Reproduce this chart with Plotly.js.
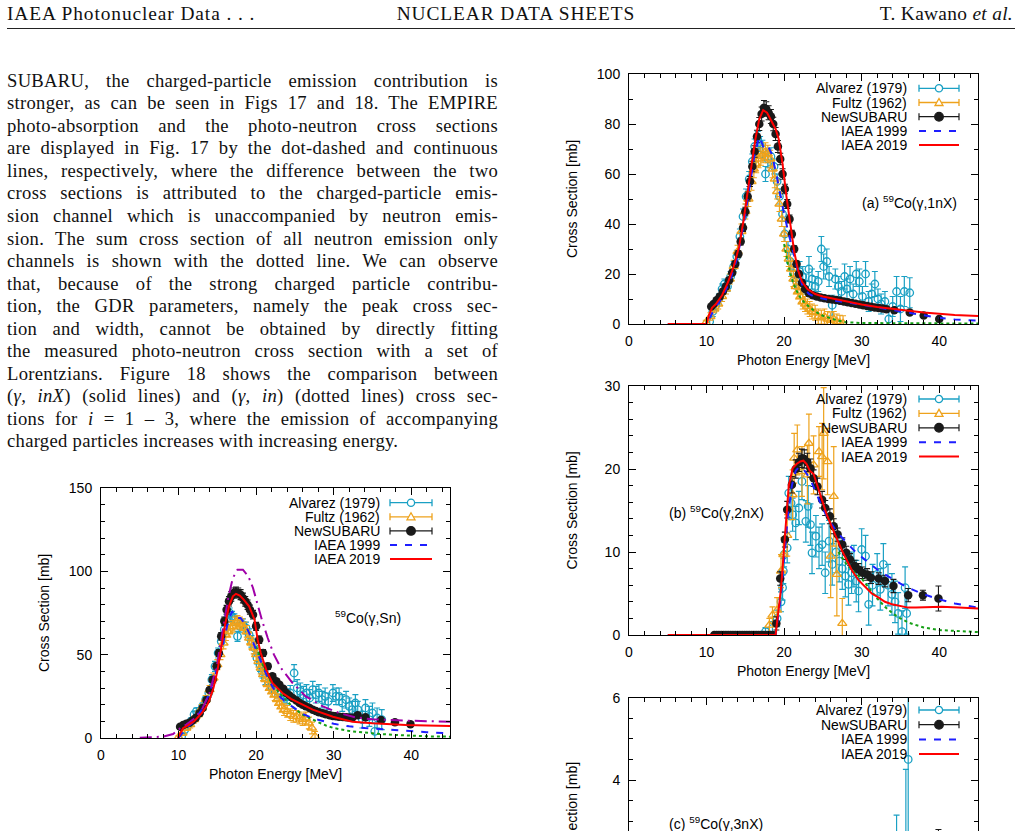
<!DOCTYPE html>
<html>
<head>
<meta charset="utf-8">
<script src="https://cdn.plot.ly/plotly-3.0.1.min.js"></script>
<style>
  html, body { margin:0; padding:0; overflow:hidden; background:#fff; }
  #page { position:relative; width:1030px; height:1000px; }
  #plot { position:absolute; left:0; top:0; width:1030px; height:1000px; }
  .tx { position:absolute; font-family:"Liberation Serif","Times New Roman",serif; font-size:19.4px;
        line-height:22.56px; color:#111; white-space:nowrap; letter-spacing:0.9px; }
  #para { position:absolute; left:7px; top:69.7px; width:491px; font-family:"Liberation Serif","Times New Roman",serif;
          font-size:18.6px; color:#111; letter-spacing:0.3px; }
  #para div { height:22.56px; line-height:22.56px; text-align:justify; text-align-last:justify; white-space:nowrap; }
  #para div.last { text-align-last:left; }
  #rule { position:absolute; left:7px; top:28px; width:1008px; height:1px; background:#222; }
</style>
</head>
<body>
<div id="page">
  <div id="plot"></div>
  <div class="tx" style="left:7px; top:3.1px;">IAEA Photonuclear Data . . .</div>
  <div class="tx" style="left:316px; top:3.1px; width:400px; text-align:center;">NUCLEAR DATA SHEETS</div>
  <div class="tx" style="left:0; top:3.1px; width:1013px; text-align:right; letter-spacing:0.3px;">T. Kawano <i>et al.</i></div>
  <div id="rule"></div>
  <div id="para">
    <div>SUBARU, the charged-particle emission contribution is</div>
    <div>stronger, as can be seen in Figs 17 and 18. The EMPIRE</div>
    <div>photo-absorption and the photo-neutron cross sections</div>
    <div>are displayed in Fig. 17 by the dot-dashed and continuous</div>
    <div>lines, respectively, where the difference between the two</div>
    <div>cross sections is attributed to the charged-particle emis-</div>
    <div>sion channel which is unaccompanied by neutron emis-</div>
    <div>sion. The sum cross section of all neutron emission only</div>
    <div>channels is shown with the dotted line. We can observe</div>
    <div>that, because of the strong charged particle contribu-</div>
    <div>tion, the GDR parameters, namely the peak cross sec-</div>
    <div>tion and width, cannot be obtained by directly fitting</div>
    <div>the measured photo-neutron cross section with a set of</div>
    <div>Lorentzians. Figure 18 shows the comparison between</div>
    <div>(<i>γ, inX</i>) (solid lines) and (<i>γ, in</i>) (dotted lines) cross sec-</div>
    <div>tions for <i>i</i> = 1 – 3, where the emission of accompanying</div>
    <div class="last">charged particles increases with increasing energy.</div>
  </div>
</div>
<script>
// ---- data: 59Co(g,Sn) ----
const s_alv_E = [10.4, 10.8, 11.2, 11.6, 12.0, 12.3, 12.7, 13.1, 13.5, 13.9,
  14.3, 14.7, 15.1, 15.5, 15.9, 16.2, 16.6, 16.9, 17.2, 17.6,
  17.9, 18.3, 18.7, 19.1, 19.4, 19.8, 20.1, 20.5, 20.8, 21.2,
  21.6, 22.0, 22.4, 22.8, 23.2, 23.6, 24.0, 24.4, 24.9, 25.3,
  25.7, 26.1, 26.5, 26.9, 27.3, 27.7, 28.1, 28.5, 28.9, 29.3,
  29.9, 30.3, 30.7, 31.1, 31.6, 32.0, 32.4, 32.8, 33.1, 33.7,
  34.1, 34.6, 35.0, 35.3, 35.6, 36.2];
const s_alv_S = [1, 5, 7.5, 10, 14, 16, 15, 19, 23, 27,
  35, 43, 51, 58, 65, 71, 75, 73, 71, 61,
  67, 68, 66, 62, 58, 54, 48, 44, 40, 36,
  33, 31, 29, 28, 27, 26, 25, 27, 39, 30,
  28, 26, 27, 24, 29, 26, 27, 23, 25, 22,
  27, 25, 25, 21, 23, 19, 17, 21, 17, 11,
  18, 13, 15, 4, 12, 11];
const s_alv_err = [1.5, 2, 2, 2, 2, 2, 2, 2, 2, 2.5,
  3, 3, 3, 3, 3, 3, 3, 3, 3.5, 3,
  3.5, 3.5, 3.5, 3.5, 3.5, 3.5, 3.5, 4, 4, 4,
  4, 4, 4, 4, 4.5, 4.5, 4.5, 4.5, 5, 5,
  5, 5, 5, 5, 5, 5, 5, 5, 5, 5,
  5, 5, 5, 5, 5, 5, 5, 5, 5, 5,
  5, 6, 6, 5, 6, 6];
const s_ful_E = [10.0, 10.5, 11.0, 11.5, 12.0, 12.5, 13.0, 13.5, 14.0, 14.5,
  15.0, 15.4, 15.8, 16.1, 16.4, 16.7, 17.0, 17.3, 17.6, 17.9,
  18.2, 18.5, 18.8, 19.1, 19.4, 19.7, 20.0, 20.3, 20.6, 20.9,
  21.2, 21.5, 21.8, 22.1, 22.4, 22.7, 23.0, 23.3, 23.6, 24.0,
  24.4, 24.8, 25.2, 25.6, 26.0, 26.4, 26.8, 27.2, 27.6];
const s_ful_S = [0.5, 3, 6, 8, 11, 14, 18, 23, 29, 36,
  44, 50, 57, 62, 64, 66, 67, 69, 70, 69,
  68, 66, 64, 60, 57, 54, 50, 46, 42, 38,
  35, 32, 30, 28, 26, 23, 21, 19, 17, 16,
  14, 13, 13, 12, 11, 12, 9, 6, 1];
const s_ful_err = [1, 1.5, 1.5, 2, 2, 2, 2, 2.5, 2.5, 3,
  3, 3, 3.5, 3.5, 3.5, 3.5, 3.5, 3.5, 3.5, 3.5,
  3.5, 3.5, 3.5, 3.5, 3.5, 3.5, 3.5, 3.5, 3.5, 3.5,
  3.5, 3.5, 3.5, 3.5, 3.5, 3.5, 3.5, 3.5, 3.5, 3.5,
  3.5, 3.5, 3.5, 3.5, 3.5, 3.5, 3.5, 3.5, 3];
const s_nsb_E = [10.2, 10.6, 11.0, 11.4, 11.8, 12.2, 12.7, 13.1, 13.6, 14.0,
  14.4, 14.9, 15.2, 15.5, 15.9, 16.2, 16.5, 16.8, 17.1, 17.4,
  17.7, 18.0, 18.3, 18.6, 18.9, 19.2, 19.6, 20.0, 20.4, 20.9,
  21.5, 22.1, 22.6, 23.0, 23.5, 23.9, 24.3, 24.7, 25.2, 25.6,
  26.0, 26.4, 26.9, 27.3, 27.7, 28.1, 28.6, 29.0, 29.5, 29.9,
  30.3, 30.7, 31.2, 31.6, 32.0, 32.4, 33.1, 34.1, 36.1, 37.9,
  39.9];
const s_nsb_S = [6.8, 7.8, 8.5, 9.2, 10.5, 12, 14.8, 18, 22.8, 28.8,
  35, 43, 51, 61, 70, 77, 82, 85, 87, 87.5,
  87, 86, 84, 82, 80, 77, 74, 67, 59, 51,
  43, 37, 34, 32, 29.5, 27, 25.5, 24, 22.5, 21,
  20, 19, 18, 17, 16.2, 15.4, 14.8, 14.2, 13.7, 13.2,
  13, 12.8, 12.6, 12.4, 12.3, 12.2, 13.6, 12.4, 10.8, 9.4,
  8.2];
const s_nsb_err = [0.8, 0.8, 0.9, 0.9, 1, 1, 1.1, 1.2, 1.3, 1.5,
  1.7, 1.9, 2.1, 2.3, 2.5, 2.6, 2.8, 2.9, 3, 3,
  3, 3, 2.9, 2.9, 2.8, 2.7, 2.6, 2.4, 2.2, 2,
  1.8, 1.6, 1.5, 1.4, 1.3, 1.2, 1.1, 1.1, 1, 1,
  1, 1, 0.9, 0.9, 0.9, 0.9, 0.9, 0.9, 0.9, 0.9,
  0.9, 0.9, 0.9, 0.9, 0.9, 0.9, 1, 1, 1, 1,
  1.2];
const s_b99_E = [10, 10.5, 11, 12, 13, 14, 15, 15.8, 16.4, 16.9, 17.4, 18, 18.6, 19.2, 19.8, 20.4, 21,
  21.6, 22.2, 23, 24, 25, 26, 27, 28, 30, 32, 34, 36, 38, 40, 42, 45];
const s_b99_S = [0, 3, 6, 10, 17, 27, 42, 58, 70, 76, 72, 72, 68, 62, 55, 48, 41,
  35, 30, 25, 21, 17.5, 14.5, 12.5, 11, 8.5, 7, 6, 5.3, 4.7, 4, 3.5, 2.8];
const s_r19_E = [9.9, 10.2, 10.6, 11.0, 12.0, 13.0, 13.6, 14.0, 14.5, 15.0, 15.5, 16.0, 16.5, 17.0, 17.4, 17.9, 18.4,
  19.1, 19.8, 20.2, 20.6, 21.3, 22.1, 23.4, 24.5, 25.6, 27.3, 29.9, 32.4, 35, 37, 39.3, 42, 45];
const s_r19_S = [0, 3, 6, 7, 10, 15, 19, 23, 30, 40, 54, 68, 79, 85, 86.5, 85.5, 83,
  79, 71, 59, 51, 41, 33, 27, 23.5, 21, 17, 12.8, 9.8, 8.8, 8.2, 7.8, 7.5, 7.2];
const s_gr_E = [20, 21, 22, 23, 24, 25, 26, 27, 28, 29, 30, 32, 34, 36, 38, 40, 42, 45];
const s_gr_S = [55, 42, 33, 27, 22, 17.5, 14, 11.5, 9.5, 7.5, 6, 4.2, 3.2, 2.4, 1.8, 1.3, 1.0, 0.8];
const s_pab_E = [5, 6.5, 8, 9.3, 10.2, 11, 12, 13, 14, 15, 15.8, 16.4, 17.0, 17.6, 18.3, 19.0, 19.6, 20.2, 20.8, 21.5,
  22.3, 23.2, 24.7, 26.4, 28.6, 30.7, 32.8, 35, 39.3, 45];
const s_pab_S = [0.2, 0.4, 0.8, 2.4, 5.8, 8, 11.5, 17, 27, 45, 66, 84, 96, 101, 101, 97, 90, 80, 70, 60,
  50, 42, 33, 25, 19, 15, 12.4, 11.2, 10.4, 9.8];

// ---- data: (a) 59Co(g,1nX) ----
const a_alv_E = [10.4, 10.8, 11.2, 11.6, 12.0, 12.3, 12.7, 13.1, 13.5, 13.9,
  14.3, 14.7, 15.1, 15.5, 15.9, 16.2, 16.6, 16.9, 17.2, 17.6,
  17.9, 18.3, 18.7, 19.1, 19.4, 19.8, 20.1, 20.5, 20.8, 21.2,
  21.6, 22.0, 22.4, 22.8, 23.2, 23.6, 24.0, 24.4, 24.8, 25.1,
  25.5, 25.8, 26.2, 26.6, 27.0, 27.4, 27.8, 28.1, 28.5, 28.9,
  29.3, 29.7, 30.1, 30.5, 30.9, 31.3, 31.7, 32.1, 32.5, 33.0,
  33.5, 34.0, 34.5, 35.0, 35.5, 36.2];
const a_alv_S = [1, 5, 7.5, 10, 14, 16, 15, 19, 23, 27,
  35, 43, 51, 58, 65, 71, 74, 72, 70, 60,
  66, 67, 63, 57, 51, 44, 36, 30, 25, 20,
  17, 21, 19, 16, 22, 18, 15, 17, 30, 23,
  25, 19, 7.5, 18, 15, 13, 19, 14, 18, 12,
  20, 17, 11, 20, 9, 12, 16, 10, 8, 9,
  2, 7, 13, 6, 13, 12.5];
const a_alv_err = [1.5, 2, 2, 2, 2, 2, 2, 2, 2, 2.5,
  3, 3, 3, 3, 3, 3, 3, 3, 3.5, 3,
  3.5, 3.5, 3, 3, 3, 3, 3, 3, 3, 3,
  3, 4, 4, 4, 5, 4, 4, 4, 5, 5,
  5, 4, 4, 4, 4, 4, 5, 4, 5, 4,
  5, 5, 4, 5, 4, 4, 5, 4, 4, 4,
  4, 4, 6, 5, 6, 6];
const a_ful_E = [9.9, 10.5, 11.0, 11.5, 12.0, 12.5, 13.0, 13.5, 14.0, 14.5,
  15.0, 15.4, 15.8, 16.1, 16.4, 16.7, 17.0, 17.3, 17.6, 17.9,
  18.2, 18.5, 18.8, 19.1, 19.4, 19.7, 20.0, 20.3, 20.6, 20.9,
  21.2, 21.5, 21.8, 22.1, 22.4, 22.7, 23.0, 23.3, 23.6, 24.0,
  24.4, 24.8, 25.2, 25.6, 26.0, 26.4, 26.8, 27.2, 27.6];
const a_ful_S = [0.5, 3, 6, 8, 11, 14, 18, 23, 29, 37,
  45, 50, 57, 62, 64, 66, 67, 68, 69, 68,
  66, 62, 58, 53, 48, 42, 36, 30, 26, 22,
  18, 15, 13, 11, 9, 8, 7, 6, 5, 4.5,
  3, 2.5, 3, 2, 1.5, 2, 1, 0.5, 0.3];
const a_ful_err = [1, 1.5, 1.5, 2, 2, 2, 2, 2.5, 2.5, 3,
  3, 3, 3.5, 3.5, 3.5, 3.5, 3.5, 3.5, 3.5, 3.5,
  3.5, 3.5, 3.5, 3, 3, 3, 3, 3, 3, 3,
  3, 3, 3, 3, 3, 3, 3, 3, 3, 3,
  3, 3, 3, 3, 3, 3, 3, 3, 3];
const a_nsb_E = [10.6, 10.9, 11.3, 11.7, 12.1, 12.5, 12.9, 13.3, 13.7, 14.1,
  14.4, 14.7, 15.0, 15.3, 15.6, 15.9, 16.2, 16.5, 16.8, 17.1,
  17.4, 17.7, 18.0, 18.3, 18.6, 18.9, 19.2, 19.5, 19.8, 20.1,
  20.4, 20.7, 21.0, 21.3, 21.6, 21.9, 22.3, 22.7, 23.2, 23.7,
  24.2, 24.7, 25.2, 25.7, 26.2, 26.7, 27.2, 27.7, 28.2, 28.7,
  29.2, 29.7, 30.2, 30.7, 31.2, 31.7, 32.2, 32.7, 33.2, 34.2,
  36.2, 38.0, 40.0];
const a_nsb_S = [7, 8, 9.5, 11, 13, 15, 17.5, 20.5, 24, 28,
  33, 38.5, 45, 51, 57, 63, 69, 75, 80, 84,
  86.5, 86, 84.5, 83, 80, 76, 71, 66, 60, 54,
  48, 42, 36, 30, 24, 20, 16.5, 14, 12.3, 11.5,
  11, 10.6, 10.3, 10, 9.8, 9.6, 9.3, 9, 8.7, 8.4,
  8.1, 7.8, 7.5, 7.2, 6.9, 6.6, 6.4, 6.2, 5.9, 5.5,
  4.6, 3.4, 2.0];
const a_nsb_err = [0.8, 0.8, 0.8, 0.9, 0.9, 1, 1, 1.1, 1.2, 1.3,
  1.4, 1.5, 1.7, 1.8, 2, 2.1, 2.3, 2.5, 2.6, 2.8,
  2.9, 2.9, 2.8, 2.8, 2.7, 2.6, 2.4, 2.3, 2.1, 1.9,
  1.8, 1.6, 1.5, 1.3, 1.2, 1.1, 1, 1, 0.9, 0.9,
  0.9, 0.8, 0.8, 0.8, 0.8, 0.8, 0.8, 0.8, 0.7, 0.7,
  0.7, 0.7, 0.7, 0.7, 0.7, 0.7, 0.7, 0.6, 0.6, 0.6,
  0.6, 0.6, 0.6];
const a_b99_E = [5, 10.0, 10.5, 11, 12, 13, 14, 14.8, 15.5, 16.2, 16.8, 17.3, 17.8, 18.4, 19.0, 19.5, 20.0,
  20.6, 21.2, 21.8, 22.4, 23.2, 24, 25, 26, 28, 30, 32, 34, 36, 38, 40, 42, 45];
const a_b99_S = [0, 0, 3, 6, 10.5, 17, 27, 40, 54, 68, 75, 71, 72, 68, 60, 52, 44,
  36, 28, 21, 15, 12, 10.8, 10, 9.5, 8.7, 7.6, 6.6, 5.7, 4.6, 3.5, 2.5, 1.8, 1.3];
const a_r19_E = [5, 10.0, 10.3, 10.7, 11.2, 12.0, 12.8, 13.5, 14.2, 14.8, 15.3, 15.8, 16.3, 16.8, 17.3, 17.8, 18.4,
  18.9, 19.3, 19.8, 20.3, 20.8, 21.3, 21.8, 22.3, 23.0, 24.0, 25.0, 26.5, 28, 30, 32, 34, 36, 38, 40, 42, 45];
const a_r19_S = [0, 0, 3.5, 6.5, 8, 11.5, 17, 23, 31, 42, 53, 64, 74, 82, 85.5, 84.5, 81,
  78, 74, 64, 51, 39, 29, 21.5, 17, 14, 12, 11, 10, 9, 7.8, 6.8, 6, 5.2, 4.6, 4.1, 3.6, 3.2];
const a_gr_E = [20, 20.5, 21, 21.5, 22, 22.5, 23, 24, 25, 26, 27, 28, 30, 35, 40, 45];
const a_gr_S = [32, 24, 18, 14, 11, 9, 7.5, 5, 3.3, 2.2, 1.3, 0.7, 0.4, 0.3, 0.2, 0.2];

// ---- data: (b) 59Co(g,2nX) ----
const b_alv_E = [17.6, 18.5, 19.1, 19.6, 19.8, 19.9, 20.0, 20.4, 20.6, 20.9,
  21.1, 21.5, 21.9, 22.3, 22.8, 23.1, 23.4, 23.6, 24.1, 24.5,
  24.9, 25.3, 25.8, 26.2, 26.7, 27.1, 27.5, 27.9, 28.3, 28.7,
  29.0, 29.3, 29.6, 30.0, 30.5, 30.9, 31.4, 32.0, 32.4, 32.8,
  33.4, 33.9, 34.3, 34.7, 35.2, 35.6, 35.8];
const b_alv_S = [0.4, 0.8, 2, 4, 5.7, 7.7, 9.7, 10.5, 17.1, 15.9,
  14.5, 13.5, 15.3, 18.5, 13.7, 15.5, 13.3, 9.9, 11.9, 10.5,
  10.9, 7.5, 11.3, 8.5, 10, 8.9, 8, 7.1, 6.1, 7.5,
  8.3, 6.5, 5.3, 10.3, 9.5, 3.7, 6, 7.3, 5.5, 8.5,
  6, 4.9, 4, 2.6, 0.4, 5.7, 2.6];
const b_alv_err = [0.5, 0.8, 1, 1.2, 1.5, 1.5, 1.5, 1.8, 2, 2,
  2, 2, 2, 2.2, 2.5, 2.5, 2.5, 2.5, 2.5, 2.5,
  2.5, 2.5, 2.5, 2.5, 2.5, 2.5, 2.5, 2.5, 2.5, 2.5,
  2.5, 2.5, 2.5, 2.5, 2.5, 2.5, 2.5, 2.5, 2.5, 2.5,
  2.5, 2.5, 2.5, 2.5, 2.5, 2.5, 2.5];
const b_ful_E = [18.1, 18.5, 19.1, 19.6, 19.9, 20.4, 21.1, 21.3, 21.7, 22.3, 23.0, 23.2, 23.8, 24.5, 24.9,
  25.1, 25.6, 26.0, 26.4, 26.8, 27.5];
const b_ful_S = [1.2, 2.4, 3, 7.7, 9.7, 12, 16.9, 21.3, 22.3, 19.7, 19.3, 23.1, 20.5, 22.1, 21.5,
  24.3, 20.9, 9.5, 16.7, 7.3, 1.4];
const b_ful_err = [0.8, 1, 1.5, 2, 2, 2.5, 3, 3, 3, 3, 3.5, 3.5, 3.5, 3, 4,
  5.5, 4, 5, 6, 5, 3];
const b_nsb_E = [11.0, 11.3, 11.6, 11.9, 12.2, 12.5, 12.8, 13.1, 13.4, 13.7,
  14.0, 14.3, 14.6, 14.9, 15.2, 15.5, 15.8, 16.1, 16.4, 16.7,
  17.0, 17.3, 17.6, 17.9, 18.2, 18.5, 19.0, 19.5, 20.1, 20.4,
  21.0, 21.5, 21.9, 22.3, 22.6, 23.0, 23.4, 23.8, 24.3, 24.9,
  25.3, 25.9, 26.4, 26.9, 27.5, 28.0, 28.5, 29.1, 29.6, 30.1,
  30.7, 31.2, 32.2, 33.0, 34.1, 36.0, 37.9, 39.9];
const b_nsb_S = [0, 0, 0, 0, 0, 0, 0, 0, 0, 0,
  0, 0, 0, 0, 0, 0, 0, 0, 0, 0,
  0, 0, 0, 0, 0, 0, 1.4, 6.8, 11.5, 15.1,
  18.1, 20, 20.8, 21.3, 21.2, 20.8, 20.1, 18.9, 17.9, 16.3,
  15.3, 14.3, 13.1, 12.1, 10.9, 9.9, 9.1, 8.3, 7.9, 7.5,
  7.3, 6.9, 6.8, 6.5, 5.9, 4.8, 4.8, 4.4];
const b_nsb_err = [0.1, 0.1, 0.1, 0.1, 0.1, 0.1, 0.1, 0.1, 0.1, 0.1,
  0.1, 0.1, 0.1, 0.1, 0.1, 0.1, 0.1, 0.1, 0.1, 0.1,
  0.1, 0.1, 0.1, 0.1, 0.1, 0.1, 0.8, 0.8, 0.9, 1,
  1, 1.1, 1.1, 1.1, 1.1, 1.1, 1.1, 1, 1, 1,
  0.9, 0.9, 0.9, 0.8, 0.8, 0.8, 0.7, 0.7, 0.7, 0.7,
  0.7, 0.7, 0.7, 0.7, 0.8, 0.8, 0.6, 1.5];
const b_b99_E = [5, 18.9, 19.5, 20, 20.5, 21, 21.5, 22, 22.5, 23, 23.5, 24, 24.5, 25, 26,
  27, 28, 29, 30, 31, 32, 33, 34, 35, 36, 37, 38, 40, 42, 45];
const b_b99_S = [0, 0, 4, 9.5, 14.5, 18, 19.8, 20.3, 20, 19.3, 18.5, 17.4, 16.3, 15.2, 13.5,
  12.2, 11.2, 10.2, 9.4, 8.6, 7.9, 7.3, 6.7, 6.2, 5.7, 5.3, 4.9, 4.3, 3.8, 3.3];
const b_r19_E = [5, 18.9, 19.6, 20.2, 20.6, 21.1, 21.6, 22.1, 22.5, 22.9, 23.3, 23.8, 24.3, 24.9, 25.5, 26.2, 26.8,
  27.5, 28.2, 28.8, 29.6, 30.5, 31.3, 32.2, 33.0, 33.9, 35.0, 36.0, 37.0, 38.5, 40.3, 42.5, 45];
const b_r19_S = [0, 0, 5.6, 12.5, 18, 20.1, 20.6, 20.9, 21, 20.6, 19.8, 19.4, 18, 16.1, 14.5, 12.9, 11.5,
  10.1, 8.8, 7.7, 6.6, 5.7, 5.0, 4.5, 4.0, 3.7, 3.45, 3.3, 3.3, 3.35, 3.4, 3.3, 3.2];
const b_gr_E = [27, 28, 29, 30, 31, 32, 33, 34, 35, 36, 38, 40, 42, 45];
const b_gr_S = [10, 8.6, 7.6, 6.8, 5.6, 4.4, 3.4, 2.6, 2.0, 1.5, 0.9, 0.6, 0.5, 0.35];

// ---- data: (c) 59Co(g,3nX) ----
const c_alv_E = [31.0, 32.0, 33.0, 34.5, 35.7, 36.0];
const c_alv_S = [0.5, 1.0, 0.8, 1.5, 2.5, 4.5];
const c_alv_err = [1.0, 1.2, 1.2, 1.65, 1.76, 3.2];
const c_nsb_E = [31.2, 32.2, 33.1, 34.1, 36.1, 37.9, 39.9];
const c_nsb_S = [0.2, 0.4, 0.7, 1.0, 1.3, 1.6, 2.0];
const c_nsb_err = [0.3, 0.3, 0.3, 0.4, 0.5, 0.6, 0.8];
const c_b99_E = [5, 30.5, 32, 34, 36, 38, 40, 42, 45];
const c_b99_S = [0, 0, 0.2, 0.5, 0.8, 1.0, 1.2, 1.35, 1.5];
const c_r19_E = [5, 30.5, 32, 34, 36, 38, 40, 42, 45];
const c_r19_S = [0, 0, 0.3, 0.6, 0.9, 1.1, 1.3, 1.4, 1.5];

// ---- page geometry (px) ----
const W = 1030, H = 1000;
const PX = x => x / W;
const PY = y => 1 - y / H;
const FONT = 'Liberation Sans, Arial, sans-serif';

const C_ALV = '#1aa0c4', C_FUL = '#eea21c', C_NSB = '#1a1a1a', C_B99 = '#1e1eff',
      C_R19 = '#ff0000', C_GR = '#16a016', C_PAB = '#a000a8';

const panels = {
  sn: { x: [101, 450], y: [488, 738], xa: 'x',  ya: 'y',  range: [0, 150], dt: 50, mn: 10 },
  a:  { x: [629, 978], y: [74, 324],  xa: 'x2', ya: 'y2', range: [0, 100], dt: 20, mn: 10 },
  b:  { x: [629, 978], y: [386, 635], xa: 'x3', ya: 'y3', range: [0, 30],  dt: 10, mn: 2 },
  c:  { x: [629, 978], y: [697.7, 944.7], xa: 'x4', ya: 'y4', range: [0, 6], dt: 2, mn: 0.5 }
};

function ptsAlv(E, S, err, p){
  return { type:'scatter', mode:'markers', x:E, y:S, xaxis:p.xa, yaxis:p.ya, hoverinfo:'skip',
    marker:{ symbol:'circle-open', size:7.5, color:C_ALV, line:{ width:1.3, color:C_ALV } },
    error_y:{ type:'data', array:err, visible:true, color:C_ALV, thickness:1.2, width:3 } };
}
function ptsFul(E, S, err, p){
  return { type:'scatter', mode:'markers', x:E, y:S, xaxis:p.xa, yaxis:p.ya, hoverinfo:'skip',
    marker:{ symbol:'triangle-up-open', size:8, color:C_FUL, line:{ width:1.3, color:C_FUL } },
    error_y:{ type:'data', array:err, visible:true, color:C_FUL, thickness:1.2, width:3 } };
}
function ptsNsb(E, S, err, p){
  return { type:'scatter', mode:'markers', x:E, y:S, xaxis:p.xa, yaxis:p.ya, hoverinfo:'skip',
    marker:{ symbol:'circle', size:8.5, color:C_NSB },
    error_y:{ type:'data', array:err, visible:true, color:C_NSB, thickness:1.1, width:3 } };
}
function curve(E, S, p, color, dash){
  return { type:'scatter', mode:'lines', x:E, y:S, xaxis:p.xa, yaxis:p.ya, hoverinfo:'skip',
    line:{ color:color, width:2, dash:dash || 'solid' } };
}

const data = [
  ptsAlv(s_alv_E, s_alv_S, s_alv_err, panels.sn),
  ptsFul(s_ful_E, s_ful_S, s_ful_err, panels.sn),
  ptsNsb(s_nsb_E, s_nsb_S, s_nsb_err, panels.sn),
  curve(s_gr_E, s_gr_S, panels.sn, C_GR, 'dot'),
  curve(s_b99_E, s_b99_S, panels.sn, C_B99, '7px,8px'),
  curve(s_pab_E, s_pab_S, panels.sn, C_PAB, '12px,5px,2px,5px'),
  curve(s_r19_E, s_r19_S, panels.sn, C_R19),

  ptsAlv(a_alv_E, a_alv_S, a_alv_err, panels.a),
  ptsFul(a_ful_E, a_ful_S, a_ful_err, panels.a),
  ptsNsb(a_nsb_E, a_nsb_S, a_nsb_err, panels.a),
  curve(a_gr_E, a_gr_S, panels.a, C_GR, 'dot'),
  curve(a_b99_E, a_b99_S, panels.a, C_B99, '7px,8px'),
  curve(a_r19_E, a_r19_S, panels.a, C_R19),

  ptsAlv(b_alv_E, b_alv_S, b_alv_err, panels.b),
  ptsFul(b_ful_E, b_ful_S, b_ful_err, panels.b),
  ptsNsb(b_nsb_E, b_nsb_S, b_nsb_err, panels.b),
  curve(b_gr_E, b_gr_S, panels.b, C_GR, 'dot'),
  curve(b_b99_E, b_b99_S, panels.b, C_B99, '7px,8px'),
  curve(b_r19_E, b_r19_S, panels.b, C_R19),

  ptsAlv(c_alv_E, c_alv_S, c_alv_err, panels.c),
  ptsNsb(c_nsb_E, c_nsb_S, c_nsb_err, panels.c),
  curve(c_b99_E, c_b99_S, panels.c, C_B99, '7px,8px'),
  curve(c_r19_E, c_r19_S, panels.c, C_R19)
];

function baseAxis(){
  return { ticks:'inside', ticklen:7, tickwidth:1, tickcolor:'#000', showline:true, linecolor:'#000',
    linewidth:1, mirror:'allticks', showgrid:false, zeroline:false, fixedrange:true,
    tickfont:{ family:FONT, size:14, color:'#000' } };
}

const layout = {
  width:W, height:H, margin:{ l:0, r:0, t:0, b:0 }, showlegend:false,
  paper_bgcolor:'rgba(0,0,0,0)', plot_bgcolor:'rgba(0,0,0,0)',
  annotations:[], shapes:[]
};

Object.values(panels).forEach(p => {
  const xk = 'xaxis' + p.xa.slice(1), yk = 'yaxis' + p.ya.slice(1);
  layout[xk] = Object.assign(baseAxis(), {
    domain:[PX(p.x[0]), PX(p.x[1])], range:[0, 45], anchor:p.ya, tick0:0, dtick:10,
    minor:{ dtick:2, ticks:'inside', ticklen:4, tickcolor:'#000' }, ticklabelstandoff:4 });
  layout[yk] = Object.assign(baseAxis(), {
    domain:[PY(p.y[1]), PY(p.y[0])], range:p.range, anchor:p.xa, tick0:0, dtick:p.dt,
    minor:{ dtick:p.mn, ticks:'inside', ticklen:4, tickcolor:'#000' }, ticklabelstandoff:5 });
  // axis titles
  layout.annotations.push({ xref:'paper', yref:'paper', x:PX((p.x[0] + p.x[1]) / 2), y:PY(p.y[1] + 36),
    xanchor:'center', yanchor:'middle', showarrow:false, text:'Photon Energy [MeV]',
    font:{ family:FONT, size:14, color:'#000' } });
  layout.annotations.push({ xref:'paper', yref:'paper', x:PX(p.x[0] - 57), y:PY((p.y[0] + p.y[1]) / 2),
    xanchor:'center', yanchor:'middle', showarrow:false, textangle:-90, text:'Cross Section [mb]',
    font:{ family:FONT, size:14, color:'#000' } });
});

// reaction labels
const labels = [
  ['<sup>59</sup>Co(γ,Sn)', 332.7, 616.7],
  ['(a) <sup>59</sup>Co(γ,1nX)', 860, 201.7],
  ['(b) <sup>59</sup>Co(γ,2nX)', 667, 511.7],
  ['(c) <sup>59</sup>Co(γ,3nX)', 667, 823]
];
labels.forEach(l => layout.annotations.push({ xref:'paper', yref:'paper', x:PX(l[1]), y:PY(l[2]),
  xanchor:'left', yanchor:'middle', showarrow:false, text:l[0], font:{ family:FONT, size:14, color:'#000' } }));

// gnuplot-style key: text right-aligned, sample on the right
const KEY = {
  'Alvarez (1979)': { color:C_ALV, caps:true, sym:'circle-open', w:1.3 },
  'Fultz (1962)':   { color:C_FUL, caps:true, sym:'triangle', w:1.3 },
  'NewSUBARU':      { color:C_NSB, caps:true, sym:'circle', w:1.2 },
  'IAEA 1999':      { color:C_B99, dash:'7px,8px', w:2 },
  'IAEA 2019':      { color:C_R19, w:2 }
};
function key(names, textRight, s0, s1, rows){
  names.forEach((nm, i) => {
    const y = rows[i], st = KEY[nm], mx = (s0 + s1) / 2;
    layout.annotations.push({ xref:'paper', yref:'paper', x:PX(textRight), y:PY(y), xanchor:'right',
      yanchor:'middle', showarrow:false, text:nm, font:{ family:FONT, size:14, color:'#000' } });
    layout.shapes.push({ type:'line', xref:'paper', yref:'paper', x0:PX(s0), x1:PX(s1), y0:PY(y), y1:PY(y),
      line:{ color:st.color, width:st.w, dash:st.dash || 'solid' } });
    if (st.caps){
      [s0, s1].forEach(xc => layout.shapes.push({ type:'line', xref:'paper', yref:'paper',
        x0:PX(xc), x1:PX(xc), y0:PY(y - 3.5), y1:PY(y + 3.5), line:{ color:st.color, width:st.w } }));
    }
    if (st.sym === 'circle-open' || st.sym === 'circle'){
      const r = st.sym === 'circle' ? 4.3 : 3.6;
      layout.shapes.push({ type:'circle', xref:'paper', yref:'paper', x0:PX(mx - r), x1:PX(mx + r),
        y0:PY(y + r), y1:PY(y - r), line:{ color:st.color, width:1.3 },
        fillcolor: st.sym === 'circle' ? st.color : '#ffffff' });
    } else if (st.sym === 'triangle'){
      const path = 'M' + PX(mx - 4) + ',' + PY(y + 3) + ' L' + PX(mx + 4) + ',' + PY(y + 3) +
                   ' L' + PX(mx) + ',' + PY(y - 4) + ' Z';
      layout.shapes.push({ type:'path', xref:'paper', yref:'paper', path:path,
        line:{ color:st.color, width:1.3 }, fillcolor:'#ffffff' });
    }
  });
}
const five = ['Alvarez (1979)', 'Fultz (1962)', 'NewSUBARU', 'IAEA 1999', 'IAEA 2019'];
key(five, 382, 390, 432, [502.7, 516.8, 530.9, 545, 559.1]);
key(five, 909, 919, 959, [88.3, 102.5, 116.7, 130.9, 145.1]);
key(five, 909, 919, 959, [399, 413.4, 427.8, 442.2, 456.6]);
key(['Alvarez (1979)', 'NewSUBARU', 'IAEA 1999', 'IAEA 2019'], 909, 919, 959, [710, 724.7, 739.4, 754.1]);

Plotly.newPlot('plot', data, layout, { staticPlot:true, displayModeBar:false });
</script>
</body>
</html>
